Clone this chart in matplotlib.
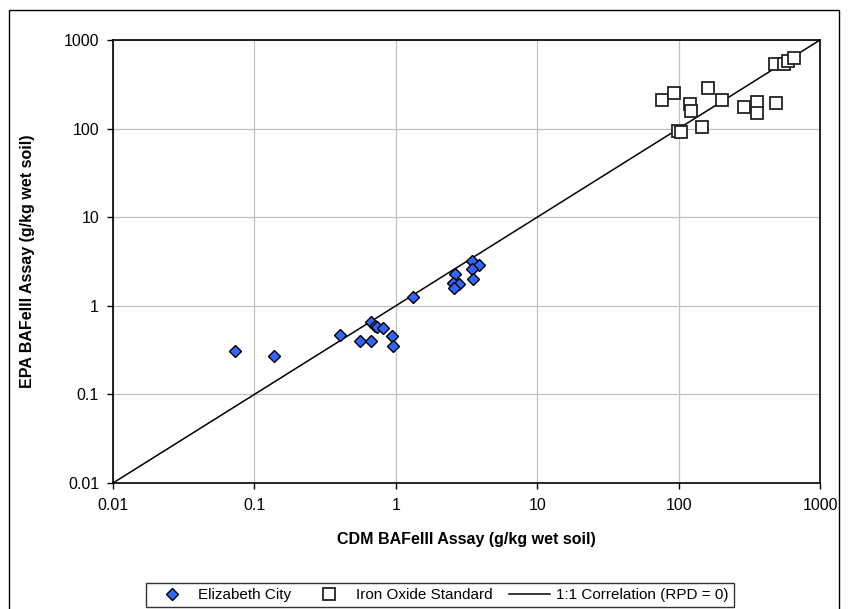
import numpy as np
import matplotlib.pyplot as plt
from matplotlib.patches import Rectangle

plt.rcParams['font.family'] = ['Liberation Sans', 'DejaVu Sans']

# Elizabeth City samples (CDM vs EPA, g/kg wet soil)
ec_cdm = [0.073, 0.137, 0.40, 0.56, 0.67, 0.67, 0.71, 0.74, 0.81, 0.94, 0.95, 1.32,
          2.62, 2.54, 2.80, 2.58, 3.46, 3.88, 3.46, 3.50]
ec_epa = [0.31, 0.27, 0.47, 0.40, 0.40, 0.66, 0.59, 0.58, 0.56, 0.46, 0.35, 1.26,
          2.29, 1.81, 1.76, 1.59, 3.20, 2.89, 2.60, 2.00]

# Iron oxide standard
io_cdm = [76, 93, 120, 122, 161, 203, 290, 358, 358, 489, 99, 104, 146, 481, 556, 594, 655]
io_epa = [210, 252, 190, 158, 287, 210, 175, 200, 150, 194, 94, 92, 104, 536, 536, 580, 626]

one_to_one = [0.01, 1000]

fig = plt.figure(figsize=(8.5, 6.09), dpi=100)
ax = fig.add_axes([113/850, 1 - 483/609, 707/850, 443/609])

ax.plot(ec_cdm, ec_epa, 'D', ms=6.2, mfc='#3366ff', mec='black', mew=1.0,
        label='Elizabeth City', zorder=4)
ax.plot(io_cdm, io_epa, 's', ms=8.2, mfc='white', mec='#222222', mew=1.3,
        label='Iron Oxide Standard', zorder=3)
ax.plot(one_to_one, one_to_one, '-', color='black', lw=1.1,
        label='1:1 Correlation (RPD = 0)', zorder=2)

ax.set_xscale('log')
ax.set_yscale('log')
ax.set_xlim(0.01, 1000)
ax.set_ylim(0.01, 1000)
ticks = [0.01, 0.1, 1, 10, 100, 1000]
ticklabels = ['0.01', '0.1', '1', '10', '100', '1000']
ax.set_xticks(ticks)
ax.set_xticklabels(ticklabels)
ax.set_yticks(ticks)
ax.set_yticklabels(ticklabels)
ax.minorticks_off()
ax.tick_params(direction='out', length=4, width=1, labelsize=11.5, pad=6)
ax.tick_params(axis='x', pad=7)
ax.grid(True, color='#c0c0c0', lw=0.9)
ax.set_axisbelow(True)
for s in ax.spines.values():
    s.set_linewidth(1.2)

ax.set_xlabel('CDM BAFeIII Assay (g/kg wet soil)', fontsize=11.5, fontweight='bold')
ax.set_ylabel('EPA BAFeIII Assay (g/kg wet soil)', fontsize=11.5, fontweight='bold')
ax.xaxis.set_label_coords(0.5, (483 - 532) / 443)
ax.yaxis.set_label_coords((35 - 113) / 707, 0.5)

leg = ax.legend(loc='center', bbox_to_anchor=(440/850, 1 - 595/609),
                bbox_transform=fig.transFigure, ncol=3, frameon=True, fancybox=False,
                edgecolor='black', fontsize=11, handlelength=2.7, columnspacing=1.1,
                handletextpad=0.4, borderpad=0.3, borderaxespad=0)
leg.get_frame().set_linewidth(1.0)

# outer chart frame
fig.patches.append(Rectangle((9/850, -0.02), 830/850, 1 - 10/609 + 0.02,
                             transform=fig.transFigure, fill=False,
                             edgecolor='black', lw=1.0))

plt.savefig('out.png', dpi=100)
